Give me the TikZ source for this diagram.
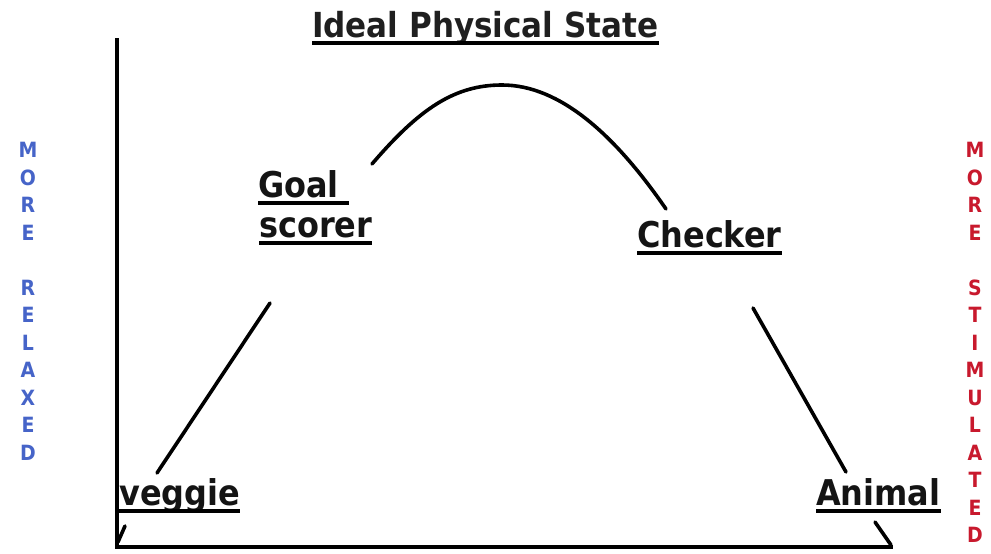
\documentclass[tikz,border=0pt]{standalone}
\usepackage{fontspec}
\setmainfont{DejaVuSansCondensed.ttf}[BoldFont=DejaVuSansCondensed-Bold.ttf]
\definecolor{relaxblue}{RGB}{70,100,200}
\definecolor{stimred}{RGB}{200,25,45}
\newcommand\ulnode[2][0pt]{\draw[ulin] ([yshift=-6pt]#2.base west) -- ([yshift=-6pt,xshift=#1]#2.base east);}
\begin{document}
\begin{tikzpicture}[x=1pt,y=-1pt,
  lbl/.style={font=\bfseries\fontsize{35.5}{36}\selectfont, inner sep=0pt, anchor=base west, text=black!92},
  ttl/.style={font=\bfseries\fontsize{34.5}{36}\selectfont, inner sep=0pt, anchor=base west, text=black!88},
  ulin/.style={line width=3.5pt},
  axis/.style={line width=4.2pt},
  curve/.style={line width=3.6pt, line cap=round},
  blet/.style={font=\bfseries\fontsize{21}{21}\selectfont, text=relaxblue, inner sep=0pt},
  rlet/.style={font=\bfseries\fontsize{21}{21}\selectfont, text=stimred, inner sep=0pt}]
\useasboundingbox (0,0) rectangle (991,554);

% axes
\coordinate (top) at (117,38);
\coordinate (origin) at (117,547);
\coordinate (xend) at (893,547);
\draw[axis] (top) -- (origin) -- (xend);

% title
\node[ttl] (title) at (312,37) {Ideal Physical State};
\ulnode{title}

% labels
\node[lbl] (goal) at (258,197) {Goal};
\ulnode[10pt]{goal}
\node[lbl] (scorer) at (259,237) {scorer};
\ulnode{scorer}
\node[lbl] (checker) at (637,247) {Checker};
\ulnode{checker}
\node[lbl] (veggie) at (119,505) {veggie};
\ulnode{veggie}
\node[lbl] (animal) at (816,505) {Animal};
\ulnode{animal}

% curve segments
\coordinate (a1) at (157,473);
\coordinate (a2) at (270,303);
\draw[curve] (a1) -- (a2);
\coordinate (c1) at (372,164);
\coordinate (peak) at (502,85);
\coordinate (c2) at (666,209);
\draw[curve] (c1) .. controls (420,108) and (455,85) .. (peak)
  .. controls (560,85) and (615,135) .. (c2);
\coordinate (d1) at (753,308);
\coordinate (d2) at (846,472);
\draw[curve] (d1) -- (d2);
\coordinate (e1) at (125,526);
\coordinate (e2) at (118,542);
\draw[curve] (e1) -- (e2);
\coordinate (f1) at (875,522);
\coordinate (f2) at (891,545);
\draw[curve] (f1) -- (f2);

% side letters
\foreach \l/\r in {M/0,O/1,R/2,E/3,R/5,E/6,L/7,A/8,X/9,E/10,D/11}
  \node[blet] (rel\r) at (28,150+27.5*\r) {\l};
\foreach \l/\r in {M/0,O/1,R/2,E/3,S/5,T/6,I/7,M/8,U/9,L/10,A/11,T/12,E/13,D/14}
  \node[rlet] (stim\r) at (975,150+27.5*\r) {\l};
\end{tikzpicture}
\end{document}
